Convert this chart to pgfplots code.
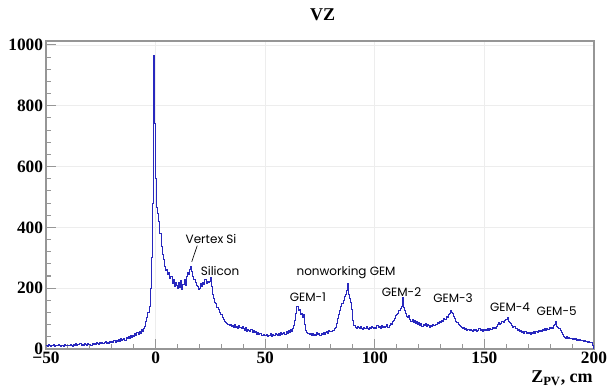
\documentclass[border=0pt]{standalone}
\usepackage{fontspec}
\setmainfont{Liberation Serif}
\newfontfamily\annfont{Poppins}
\usepackage{pgfplots}
\usepackage{pgfplotstable}
\pgfplotsset{compat=1.18}

\definecolor{histblue}{RGB}{40,40,190}
\definecolor{framegray}{RGB}{150,150,150}

% Vertex z distribution, 0.5 cm bins from -50 cm to 200 cm (last row closes the final bin)
\pgfplotstableread[row sep=\\]{
v\\
12\\ 9\\ 14\\ 11\\ 8\\ 13\\ 10\\ 15\\ 9\\ 12\\
11\\ 14\\ 10\\ 8\\ 13\\ 12\\ 9\\ 15\\ 11\\ 10\\
13\\ 10\\ 16\\ 12\\ 9\\ 14\\ 11\\ 17\\ 12\\ 15\\
14\\ 18\\ 12\\ 16\\ 13\\ 19\\ 15\\ 12\\ 17\\ 14\\
16\\ 13\\ 19\\ 15\\ 18\\ 14\\ 21\\ 17\\ 15\\ 20\\
18\\ 22\\ 17\\ 20\\ 24\\ 19\\ 23\\ 18\\ 25\\ 21\\
24\\ 20\\ 27\\ 23\\ 29\\ 25\\ 31\\ 26\\ 33\\ 28\\
30\\ 36\\ 28\\ 38\\ 33\\ 41\\ 35\\ 44\\ 37\\ 46\\
42\\ 50\\ 45\\ 55\\ 48\\ 58\\ 52\\ 63\\ 56\\ 68\\
75\\ 92\\ 105\\ 120\\ 141\\ 200\\ 300\\ 480\\ 965\\ 742\\
560\\ 466\\ 445\\ 420\\ 380\\ 336\\ 310\\ 293\\ 270\\ 258\\
262\\ 244\\ 250\\ 232\\ 238\\ 215\\ 228\\ 205\\ 220\\ 210\\
198\\ 218\\ 202\\ 225\\ 195\\ 212\\ 230\\ 208\\ 238\\ 250\\
245\\ 262\\ 272\\ 255\\ 240\\ 228\\ 218\\ 210\\ 205\\ 196\\
200\\ 215\\ 205\\ 220\\ 212\\ 228\\ 215\\ 222\\ 218\\ 222\\
236\\ 205\\ 180\\ 165\\ 154\\ 148\\ 138\\ 130\\ 120\\ 115\\
112\\ 105\\ 98\\ 92\\ 88\\ 85\\ 80\\ 78\\ 82\\ 75\\
76\\ 72\\ 79\\ 70\\ 74\\ 68\\ 77\\ 71\\ 66\\ 73\\
68\\ 62\\ 70\\ 59\\ 65\\ 61\\ 57\\ 64\\ 55\\ 60\\
53\\ 58\\ 49\\ 55\\ 47\\ 52\\ 50\\ 44\\ 49\\ 46\\
43\\ 48\\ 41\\ 46\\ 44\\ 50\\ 42\\ 47\\ 45\\ 52\\
48\\ 44\\ 51\\ 46\\ 53\\ 47\\ 50\\ 55\\ 49\\ 58\\
52\\ 60\\ 55\\ 63\\ 58\\ 66\\ 78\\ 95\\ 118\\ 141\\
125\\ 130\\ 115\\ 118\\ 105\\ 112\\ 80\\ 62\\ 55\\ 50\\
48\\ 52\\ 45\\ 50\\ 44\\ 49\\ 46\\ 53\\ 47\\ 51\\
45\\ 50\\ 48\\ 55\\ 49\\ 53\\ 58\\ 52\\ 60\\ 56\\
58\\ 62\\ 60\\ 66\\ 72\\ 85\\ 100\\ 115\\ 128\\ 141\\
148\\ 160\\ 172\\ 180\\ 192\\ 217\\ 178\\ 165\\ 152\\ 130\\
95\\ 77\\ 72\\ 68\\ 75\\ 70\\ 66\\ 73\\ 69\\ 64\\
71\\ 67\\ 74\\ 69\\ 65\\ 72\\ 68\\ 75\\ 70\\ 66\\
72\\ 68\\ 76\\ 70\\ 74\\ 67\\ 78\\ 72\\ 75\\ 70\\
74\\ 80\\ 72\\ 78\\ 85\\ 82\\ 90\\ 95\\ 100\\ 110\\
115\\ 118\\ 125\\ 132\\ 140\\ 170\\ 135\\ 125\\ 118\\ 108\\
102\\ 110\\ 96\\ 92\\ 98\\ 88\\ 94\\ 85\\ 90\\ 80\\
86\\ 78\\ 84\\ 75\\ 82\\ 77\\ 85\\ 74\\ 80\\ 76\\
72\\ 78\\ 74\\ 80\\ 76\\ 82\\ 79\\ 86\\ 84\\ 90\\
88\\ 95\\ 92\\ 100\\ 98\\ 106\\ 104\\ 112\\ 118\\ 125\\
120\\ 116\\ 108\\ 100\\ 92\\ 86\\ 82\\ 78\\ 74\\ 70\\
66\\ 70\\ 63\\ 67\\ 61\\ 65\\ 60\\ 64\\ 62\\ 58\\
63\\ 60\\ 65\\ 58\\ 62\\ 66\\ 60\\ 64\\ 59\\ 63\\
61\\ 65\\ 60\\ 67\\ 62\\ 68\\ 64\\ 70\\ 66\\ 72\\
68\\ 75\\ 82\\ 87\\ 80\\ 85\\ 90\\ 88\\ 94\\ 98\\
96\\ 102\\ 92\\ 88\\ 84\\ 78\\ 72\\ 75\\ 68\\ 66\\
62\\ 65\\ 58\\ 60\\ 55\\ 58\\ 52\\ 56\\ 50\\ 54\\
51\\ 55\\ 49\\ 53\\ 50\\ 56\\ 52\\ 58\\ 54\\ 60\\
57\\ 62\\ 58\\ 64\\ 60\\ 66\\ 62\\ 68\\ 64\\ 70\\
66\\ 72\\ 68\\ 78\\ 82\\ 92\\ 75\\ 70\\ 66\\ 60\\
55\\ 48\\ 42\\ 38\\ 36\\ 40\\ 34\\ 37\\ 33\\ 35\\
32\\ 34\\ 30\\ 33\\ 29\\ 31\\ 28\\ 30\\ 27\\ 29\\
26\\ 28\\ 24\\ 25\\ 22\\ 24\\ 21\\ 23\\ 20\\ 12\\
12\\
}\vz

\begin{document}
\begin{tikzpicture}
\begin{axis}[
  name=ax,
  scale only axis,
  width=411pt, height=231pt,
  xmin=-50, xmax=200, ymin=0, ymax=1013,
  axis line style={framegray, line width=1pt},
  tick align=inside,
  xtick pos=lower, ytick pos=left,
  xtick={-50,0,50,100,150,200},
  xticklabels={−50,0,50,100,150,200},
  ytick={0,200,400,600,800,1000},
  yticklabels={0,200,400,600,800,1000},
  minor x tick num=4, minor y tick num=4,
  major tick length=7.5pt, minor tick length=4pt,
  tick style={framegray, line width=0.8pt},
  grid=major,
  major grid style={black!7, line width=0.5pt},
  tick label style={font=\fontsize{13}{13}\selectfont\bfseries, inner sep=2pt},
]
\addplot[const plot mark left, histblue, line width=0.75pt]
  table[x expr=\coordindex*0.5-50, y=v] {\vz};
\addplot[histblue, line width=0.75pt] coordinates {(200,12) (200,0)};

\node[font=\annfont\fontsize{9}{9}\selectfont, anchor=base] at (axis cs:25.3,348) {Vertex Si};
\draw[black, line width=0.5pt] (axis cs:19.0,340) -- (axis cs:16.5,287);
\node[font=\annfont\fontsize{9}{9}\selectfont, anchor=base] at (axis cs:29.4,243) {Silicon};
\node[font=\annfont\fontsize{9}{9}\selectfont, anchor=base] at (axis cs:86.9,242) {nonworking GEM};
\node[font=\annfont\fontsize{9}{9}\selectfont, anchor=base] at (axis cs:69.5,156) {GEM-1};
\node[font=\annfont\fontsize{9}{9}\selectfont, anchor=base] at (axis cs:112.2,174) {GEM-2};
\node[font=\annfont\fontsize{9}{9}\selectfont, anchor=base] at (axis cs:135.7,152) {GEM-3};
\node[font=\annfont\fontsize{9}{9}\selectfont, anchor=base] at (axis cs:161.7,123) {GEM-4};
\node[font=\annfont\fontsize{9}{9}\selectfont, anchor=base] at (axis cs:183,109) {GEM-5};
\end{axis}

% title and axis title
\node[anchor=base, font=\fontsize{13.5}{13.5}\selectfont\bfseries] at ([xshift=2pt, yshift=15pt]ax.north) {VZ};
\node[anchor=base east, inner sep=0pt, font=\fontsize{13.5}{13.5}\selectfont\bfseries]
  at ([xshift=-0.75pt, yshift=-25.5pt]ax.south east) {Z\textsubscript{PV}, cm};

\pgfresetboundingbox
\path[use as bounding box] ([xshift=-34.5pt, yshift=-30pt]ax.south west)
  rectangle ([xshift=10.5pt, yshift=30.75pt]ax.north east);
\end{tikzpicture}
\end{document}
